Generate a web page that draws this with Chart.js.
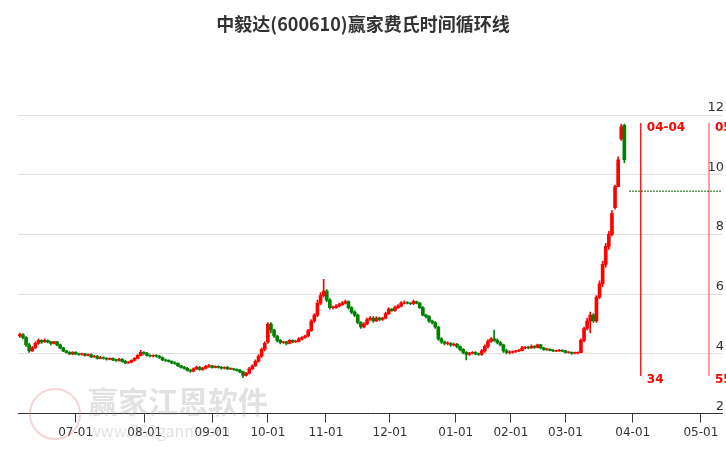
<!DOCTYPE html>
<html>
<head>
<meta charset="utf-8">
<script src="https://cdn.jsdelivr.net/npm/chart.js@4.4.1/dist/chart.umd.min.js"></script>
<style>
  body { margin: 0; background: #fff; }
  #wrap { width: 726px; height: 450px; position: relative; }
</style>
</head>
<body>
<div id="wrap"><canvas id="kline"></canvas></div>
<script>
// daily candles, index = trading day slot
let opens = [4.6,4.65,4.55,4.3,4.1,4.2, 4.35,4.45,4.4,4.45,4.4, 4.35,4.4,4.3,4.2,4.1,4.05, 4.0,4.05,4.0,3.98,4.0,3.95,3.98,3.9,3.92,3.85, 3.88,3.85,3.82,3.85,3.8,3.78,3.82,3.75,3.7,3.72,3.78, 3.85,3.95,4.05,4.02,3.95,3.93, 3.95,3.92,3.88,3.8,3.78,3.75,3.7, 3.68,3.6,3.55,3.52,3.45,3.42,3.5,3.55, 3.48,3.52,3.58,3.6,3.55,3.58,3.55,3.52, 3.55,3.5,3.5,3.48,3.45,3.4, 3.28,3.35,3.5,3.6,3.75,3.92, 4.15,4.4,5.0,4.8,4.6, 4.45,4.38,4.4,4.35,4.45,4.4, 4.42,4.5,4.55,4.6,4.78,5.1, 5.3,5.7,5.95,6.1,5.8, 5.55,5.55,5.6,5.65,5.7,5.75,5.55, 5.4,5.3,5.05,4.9,5.0,5.15, 5.2,5.1,5.2,5.15,5.2,5.35,5.5, 5.45,5.55,5.6,5.7,5.72,5.7,5.68,5.75, 5.7,5.55,5.3,5.25,5.1,5.05, 4.9,4.5,4.4,4.35,4.35, 4.3,4.32,4.25,4.15,4.05,3.98,4.02,4.05, 4.0,3.98,4.1,4.25,4.42,4.5,4.45,4.38, 4.3,4.1,4.05,4.05,4.08, 4.1,4.12,4.2,4.22,4.2,4.25,4.22, 4.3,4.2,4.15,4.15,4.12,4.1,4.1,4.12, 4.1,4.05,4.05,4.02,4.03, 4.05,4.45,4.85,5.1,5.3, 5.1,5.9,6.35,7.0,7.6, 8.0,8.9,9.6,11.2,11.65];
let closes = [4.65,4.55,4.3,4.1,4.2,4.35, 4.45,4.4,4.45,4.4,4.35, 4.4,4.3,4.2,4.1,4.05,4.0, 4.05,4.0,3.98,4.0,3.95,3.98,3.9,3.92,3.85,3.88, 3.85,3.82,3.85,3.8,3.78,3.82,3.75,3.7,3.72,3.78,3.85, 3.95,4.05,4.02,3.95,3.93,3.95, 3.92,3.88,3.8,3.78,3.75,3.7,3.68, 3.6,3.55,3.52,3.45,3.42,3.5,3.55,3.48, 3.52,3.58,3.6,3.55,3.58,3.55,3.52,3.55, 3.5,3.5,3.48,3.45,3.4,3.28, 3.35,3.5,3.6,3.75,3.92,4.15, 4.35,5.0,4.8,4.6,4.45, 4.38,4.4,4.35,4.45,4.4,4.42, 4.5,4.55,4.6,4.78,5.1,5.3, 5.7,5.95,6.1,5.8,5.55, 5.55,5.6,5.65,5.7,5.75,5.55,5.4, 5.3,5.05,4.9,5.0,5.15,5.2, 5.1,5.2,5.15,5.2,5.35,5.5,5.45, 5.55,5.6,5.7,5.72,5.7,5.68,5.75,5.7, 5.55,5.3,5.25,5.1,5.05,4.9, 4.5,4.4,4.35,4.35,4.3, 4.32,4.25,4.15,4.05,3.98,4.02,4.05,4.0, 3.98,4.1,4.25,4.42,4.5,4.45,4.38,4.3, 4.1,4.05,4.05,4.08,4.1, 4.12,4.2,4.22,4.2,4.25,4.22,4.3, 4.2,4.15,4.15,4.12,4.1,4.1,4.12,4.1, 4.05,4.05,4.02,4.03,4.05, 4.45,4.85,5.1,5.3,5.1, 5.9,6.35,7.0,7.6,8.0, 8.7,9.6,10.5,11.6,10.5];
let highs = [4.7,4.68,4.58,4.35,4.25,4.4, 4.5,4.48,4.5,4.47,4.42, 4.42,4.42,4.33,4.22,4.12,4.08, 4.08,4.08,4.03,4.03,4.02,4.0,4.0,3.95,3.95,3.92, 3.9,3.88,3.87,3.87,3.83,3.85,3.84,3.78,3.75,3.8,3.88, 3.98,4.12,4.08,4.05,3.98,3.97, 3.98,3.95,3.9,3.83,3.8,3.77,3.73, 3.7,3.62,3.58,3.55,3.48,3.53,3.6,3.58, 3.55,3.62,3.65,3.62,3.6,3.6,3.58,3.57, 3.58,3.53,3.52,3.5,3.48,3.42, 3.38,3.55,3.63,3.8,3.98,4.2, 4.4,5.05,5.05,4.82,4.62, 4.48,4.42,4.42,4.48,4.47,4.45, 4.55,4.58,4.63,4.82,5.15,5.35, 5.8,6.05,6.5,6.15,5.85, 5.6,5.65,5.7,5.75,5.8,5.78,5.58, 5.45,5.33,5.08,5.05,5.2,5.25, 5.25,5.25,5.23,5.22,5.4,5.55,5.52, 5.6,5.65,5.75,5.78,5.75,5.72,5.8,5.77, 5.72,5.58,5.33,5.28,5.13,5.08, 4.92,4.55,4.43,4.4,4.38, 4.36,4.35,4.27,4.18,4.08,4.05,4.08,4.08, 4.03,4.15,4.3,4.48,4.55,4.8,4.5,4.42, 4.33,4.15,4.1,4.1,4.12, 4.15,4.25,4.25,4.25,4.3,4.28,4.33, 4.32,4.22,4.18,4.17,4.15,4.13,4.15,4.14, 4.12,4.08,4.07,4.06,4.07, 4.5,4.9,5.2,5.4,5.35, 5.95,6.45,7.1,7.7,8.1, 8.8,9.65,10.6,11.7,11.7];
let lows = [4.55,4.5,4.25,4.05,4.08,4.18, 4.32,4.35,4.38,4.37,4.3, 4.33,4.27,4.17,4.07,4.02,3.97, 3.97,3.97,3.95,3.96,3.92,3.93,3.87,3.88,3.82,3.83, 3.82,3.79,3.8,3.77,3.75,3.76,3.72,3.67,3.68,3.7,3.76, 3.83,3.93,3.98,3.92,3.9,3.9, 3.89,3.85,3.77,3.75,3.72,3.67,3.65, 3.57,3.52,3.49,3.42,3.38,3.4,3.47,3.45, 3.45,3.5,3.55,3.52,3.53,3.52,3.49,3.5, 3.47,3.47,3.45,3.42,3.37,3.2, 3.25,3.32,3.47,3.58,3.72,3.88, 4.1,4.35,4.7,4.55,4.4, 4.33,4.35,4.3,4.33,4.37,4.38, 4.4,4.47,4.52,4.57,4.75,5.05, 5.25,5.65,5.9,5.75,5.5, 5.5,5.52,5.57,5.62,5.67,5.5,5.35, 5.25,5.0,4.85,4.87,4.97,5.12, 5.05,5.08,5.1,5.12,5.17,5.32,5.42, 5.42,5.52,5.57,5.67,5.67,5.65,5.65,5.67, 5.52,5.27,5.2,5.05,5.0,4.85, 4.45,4.35,4.3,4.3,4.25, 4.27,4.2,4.1,4.0,3.8,3.95,4.0,3.97, 3.95,3.95,4.05,4.2,4.38,4.42,4.33,4.27, 4.05,4.0,4.0,4.02,4.05, 4.07,4.1,4.17,4.17,4.18,4.18,4.2, 4.17,4.12,4.12,4.1,4.07,4.07,4.08,4.07, 4.02,4.02,3.98,4.0,4.0, 4.03,4.4,4.8,4.7,5.05, 5.05,5.85,6.25,6.9,7.5, 7.95,8.85,9.9,11.15,10.4];

// month labels and their slot positions
let monthLabels = ["07-01","08-01","09-01","10-01","11-01","12-01","01-01","02-01","03-01","04-01","05-01"];
let monthSlots = [18, 40.3, 62, 80, 98.7, 119.4, 140.6, 158.4, 176, 197.7, 219.7];
let yTicks = [2, 4, 6, 8, 10, 12];

// time cycle lines
let cycleSlots = [200.3, 222.3];
let cycleTop = ["04-04", "05"];
let cycleBottom = ["34", "55"];
let cycleColors = ["#ff0000", "#ff6a6a"];
let guidePrice = 9.45;
let guideStart = 196.5;

let upColor = "#ff0000";
let downColor = "#008000";

function candleColor(i) {
  return closes[i] >= opens[i] ? upColor : downColor;
}

let wickData = closes.map((c, i) => ({ x: i, y: [lows[i], highs[i]] }));
let bodyData = closes.map((c, i) => {
  let lo = Math.min(opens[i], c), hi = Math.max(opens[i], c);
  if (hi - lo < 0.02) hi = lo + 0.02;
  return { x: i, y: [lo, hi] };
});

// draw extras: title, y labels, cycle lines, watermark
let overlayPlugin = {
  id: "overlay",
  beforeDatasetsDraw(chart) {
    let ctx = chart.ctx;
    ctx.save();
    ctx.font = "bold 30px 'Noto Sans CJK SC'";
    ctx.fillStyle = "rgba(150,150,150,0.28)";
    ctx.fillText("赢家江恩软件", 88, 413);
    ctx.font = "16px 'Noto Sans CJK SC'";
    ctx.fillText("www.360gann.com", 88, 437);
    ctx.strokeStyle = "rgba(220,120,120,0.3)";
    ctx.lineWidth = 2;
    ctx.beginPath();
    ctx.arc(55, 414, 25, 0, Math.PI * 2);
    ctx.stroke();
    ctx.restore();
  },
  afterDatasetsDraw(chart) {
    let ctx = chart.ctx;
    let xs = chart.scales.x, ys = chart.scales.y;
    ctx.save();
    ctx.font = "bold 18px 'Noto Sans CJK SC'";
    ctx.fillStyle = "#333";
    ctx.textAlign = "center";
    ctx.fillText("中毅达(600610)赢家费氏时间循环线", 363, 31);

    ctx.font = "13px 'DejaVu Sans'";
    ctx.fillStyle = "#333";
    ctx.textAlign = "right";
    yTicks.forEach(v => ctx.fillText(String(v), 724, ys.getPixelForValue(v) - 4));

    cycleSlots.forEach((s, k) => {
      let px = xs.getPixelForValue(s);
      ctx.strokeStyle = cycleColors[k];
      ctx.lineWidth = 1.3;
      ctx.beginPath();
      ctx.moveTo(px, 123);
      ctx.lineTo(px, 376);
      ctx.stroke();
      ctx.fillStyle = "#ff0000";
      ctx.textAlign = "left";
      ctx.font = "bold 12px 'DejaVu Sans'";
      ctx.fillText(cycleTop[k], px + 6, 131);
      ctx.fillText(cycleBottom[k], px + 6, 383);
    });

    let gy = ys.getPixelForValue(guidePrice);
    ctx.strokeStyle = "#006400";
    ctx.lineWidth = 1;
    ctx.setLineDash([2, 1]);
    ctx.beginPath();
    ctx.moveTo(xs.getPixelForValue(guideStart), gy);
    ctx.lineTo(chart.chartArea.right, gy);
    ctx.stroke();
    ctx.restore();
  }
};

new Chart(document.getElementById("kline"), {
  type: "bar",
  data: {
    datasets: [
      {
        data: wickData,
        backgroundColor: wickData.map((d, i) => candleColor(i)),
        barThickness: 1,
        grouped: false,
      },
      {
        data: bodyData,
        backgroundColor: bodyData.map((d, i) => candleColor(i)),
        barThickness: 3,
        grouped: false,
      },
    ],
  },
  options: {
    responsive: true,
    maintainAspectRatio: false,
    animation: false,
    layout: { padding: { top: 115, left: 18, right: 4, bottom: 7 } },
    plugins: { legend: { display: false }, tooltip: { enabled: false } },
    scales: {
      x: {
        type: "linear",
        offset: false,
        min: -0.6,
        max: 226.5,
        afterBuildTicks(axis) {
          axis.ticks = monthSlots.map(v => ({ value: v }));
        },
        ticks: {
          autoSkip: false,
          maxRotation: 0,
          color: "#333",
          font: { size: 12, family: "DejaVu Sans" },
          callback(v, idx) { return monthLabels[idx]; },
        },
        grid: { drawOnChartArea: false, tickLength: 9, color: "#333", offset: false },
        border: { color: "#333", width: 1 },
      },
      y: {
        min: 2,
        max: 12,
        afterBuildTicks(axis) {
          axis.ticks = yTicks.map(v => ({ value: v }));
        },
        ticks: { display: false },
        grid: { color: "#e0e0e0", drawTicks: false },
        border: { display: false },
      },
    },
  },
  plugins: [overlayPlugin],
});
</script>
</body>
</html>
